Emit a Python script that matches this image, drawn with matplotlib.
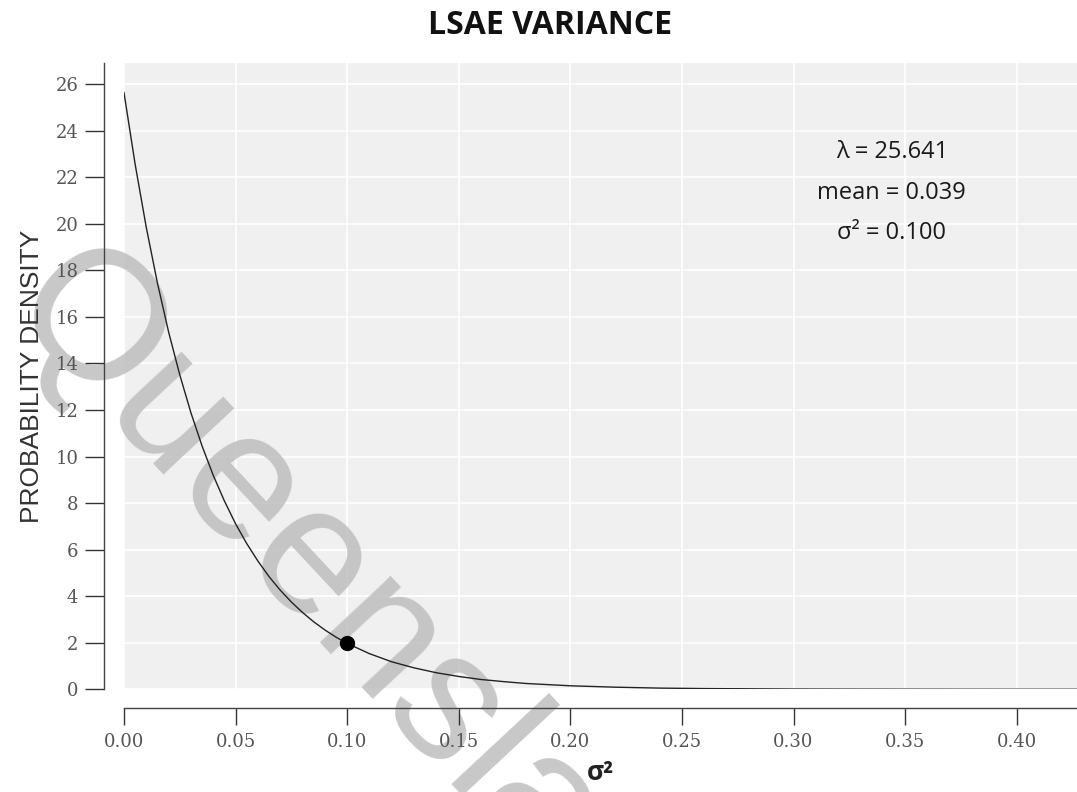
import matplotlib
matplotlib.use("Agg")
import matplotlib.pyplot as plt

# exponential density (lambda = 25.641)
x_vals = [0.000, 0.005, 0.010, 0.015, 0.020, 0.025, 0.030, 0.035, 0.040, 0.045,
          0.050, 0.055, 0.060, 0.065, 0.070, 0.075, 0.080, 0.085, 0.090, 0.095,
          0.100, 0.110, 0.120, 0.130, 0.140, 0.150, 0.160, 0.170, 0.180, 0.190,
          0.200, 0.220, 0.240, 0.260, 0.280, 0.300, 0.330, 0.360, 0.400, 0.430]
density = [25.64, 22.56, 19.84, 17.45, 15.35, 13.51, 11.88, 10.45, 9.19, 8.09,
           7.11, 6.26, 5.51, 4.84, 4.26, 3.75, 3.30, 2.90, 2.55, 2.24,
           1.97, 1.53, 1.18, 0.92, 0.71, 0.55, 0.42, 0.33, 0.25, 0.20,
           0.15, 0.09, 0.05, 0.03, 0.02, 0.01, 0.005, 0.0025, 0.0, 0.0]

point_x = 0.10
point_y = 1.97

x_ticks = [0.00, 0.05, 0.10, 0.15, 0.20, 0.25, 0.30, 0.35, 0.40]
y_ticks = [0, 2, 4, 6, 8, 10, 12, 14, 16, 18, 20, 22, 24, 26]

stats_lines = ["λ = 25.641", "mean = 0.039", "σ² = 0.100"]
stats_y = [23.08, 21.32, 19.60]


def main():
    fig = plt.figure(figsize=(10.77, 7.92), dpi=100)
    ax = fig.add_axes([0.1151, 0.1297, 0.8849, 0.7912])
    ax.set_facecolor("#f0f0f0")

    # grid drawn by hand so the watermark can sit between it and the axis
    for xt in x_ticks:
        ax.axvline(xt, color="white", linewidth=1.2, zorder=0.5)
    for yt in y_ticks:
        ax.axhline(yt, color="white", linewidth=1.2, zorder=0.5)

    ax.plot(x_vals, density, color="#222222", linewidth=1.0, zorder=3)
    ax.plot(point_x, point_y, "o", color="black", markersize=10, zorder=4)

    ax.set_xlim(0, 0.427)
    ax.set_ylim(0, 26.92)
    ax.set_xticks(x_ticks)
    ax.set_xticklabels([f"{t:.2f}" for t in x_ticks])
    ax.set_yticks(y_ticks)

    for side in ["top", "right"]:
        ax.spines[side].set_visible(False)
    ax.spines["left"].set_position(("outward", 14.2))
    ax.spines["bottom"].set_position(("outward", 13.5))
    for side in ["left", "bottom"]:
        ax.spines[side].set_color("#444444")
        ax.spines[side].set_linewidth(1.0)

    ax.tick_params(axis="x", length=12, width=1, color="#333333",
                   labelcolor="#555555", labelsize=13, pad=6)
    ax.tick_params(axis="y", length=13.7, width=1, color="#333333",
                   labelcolor="#555555", labelsize=13, pad=5)
    for lab in ax.get_xticklabels() + ax.get_yticklabels():
        lab.set_fontfamily("DejaVu Serif")

    ax.set_ylabel("PROBABILITY DENSITY", fontsize=19, family="Liberation Sans",
                  color="#333333", labelpad=8)
    ax.set_xlabel("σ²", fontsize=19, fontweight="bold", family="Open Sans",
                  color="#222222", labelpad=6)

    for txt, yy in zip(stats_lines, stats_y):
        ax.text(0.344, yy, txt, ha="center", va="center", fontsize=17,
                family="Open Sans", color="#1a1a1a", zorder=5)

    fig.text(550 / 1077, 1 - 25 / 792, "LSAE VARIANCE", ha="center", va="center",
             fontsize=23, fontweight="bold", family="Open Sans", color="#111111")

    # watermark, under the axis artists but over the grid
    ax.text(374 / 1077, 1 - 640 / 792, "Queensland", transform=fig.transFigure,
            rotation=-47, rotation_mode="anchor", ha="center", va="center",
            fontsize=132, family="Liberation Sans", color="#bababa", alpha=0.8,
            zorder=1, clip_on=False)

    fig.savefig("out.png", dpi=100)


if __name__ == "__main__":
    main()
